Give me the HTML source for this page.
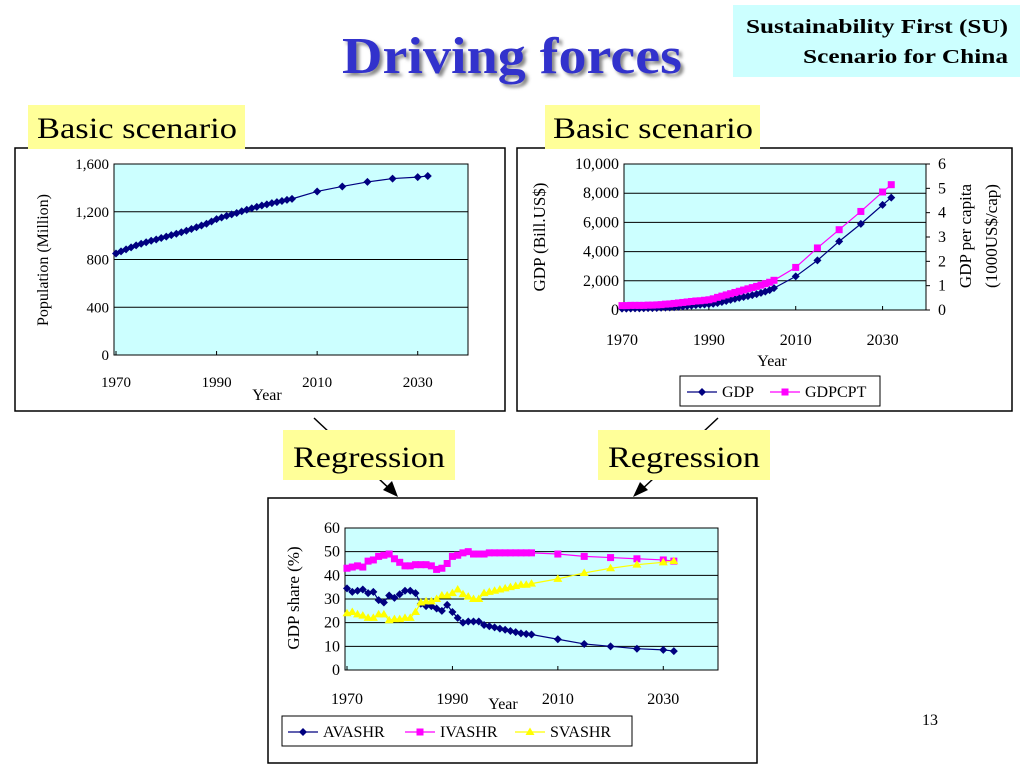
<!DOCTYPE html>
<html><head><meta charset="utf-8"><style>
html,body{margin:0;padding:0;background:#fff;}
svg{display:block;font-family:"Liberation Serif",serif;}
</style></head><body>
<svg id="s" width="1024" height="768" viewBox="0 0 1024 768">
<defs><filter id="sh"><feDropShadow dx="3" dy="3" stdDeviation="1.5" flood-color="#888"/></filter></defs>
<text x="512" y="73" text-anchor="middle" font-size="52" font-weight="bold" fill="#3333cc" filter="url(#sh)" textLength="340" lengthAdjust="spacingAndGlyphs">Driving forces</text>
<rect x="733" y="5" width="287" height="72" fill="#ccffff"/>
<text x="1008" y="33" text-anchor="end" font-size="20" font-weight="bold" textLength="262" lengthAdjust="spacingAndGlyphs">Sustainability First (SU)</text>
<text x="1008" y="63" text-anchor="end" font-size="20" font-weight="bold" textLength="205" lengthAdjust="spacingAndGlyphs">Scenario for China</text>

<rect x="15" y="148" width="490" height="263" fill="#fff" stroke="#000" stroke-width="1.5"/>
<rect x="517" y="148" width="495" height="263" fill="#fff" stroke="#000" stroke-width="1.5"/>
<rect x="268" y="498" width="489" height="265" fill="#fff" stroke="#000" stroke-width="1.5"/>

<rect x="28" y="105" width="217" height="44" fill="#ffff99"/>
<text x="137" y="138" text-anchor="middle" font-size="30" textLength="200" lengthAdjust="spacingAndGlyphs">Basic scenario</text>
<rect x="545" y="105" width="215" height="44" fill="#ffff99"/>
<text x="653" y="138" text-anchor="middle" font-size="30" textLength="200" lengthAdjust="spacingAndGlyphs">Basic scenario</text>

<line x1="314" y1="418" x2="394" y2="493" stroke="#000" stroke-width="1.5"/>
<polygon points="398,497 383,490 392,481" fill="#000"/>
<line x1="718" y1="418" x2="638" y2="493" stroke="#000" stroke-width="1.5"/>
<polygon points="633,497 640,482 648,490" fill="#000"/>
<rect x="283" y="430" width="172" height="50" fill="#ffff99"/>
<text x="369" y="467" text-anchor="middle" font-size="30" textLength="152" lengthAdjust="spacingAndGlyphs">Regression</text>
<rect x="598" y="430" width="172" height="50" fill="#ffff99"/>
<text x="684" y="467" text-anchor="middle" font-size="30" textLength="152" lengthAdjust="spacingAndGlyphs">Regression</text>
<text x="930" y="725" text-anchor="middle" font-size="16">13</text>
<g id="charts"></g>
</svg>
<script>
// ---- data ----
const annualYears = [];
for (let y = 1970; y <= 2005; y++) annualYears.push(y);
const futureYears = [2010, 2015, 2020, 2025, 2030, 2032];
const years = annualYears.concat(futureYears);
const popValues = [850,868,885,902,918,932,945,957,968,980,992,1004,1016,1028,1041,1055,1070,1085,1100,1118,1138,1152,1165,1178,1190,1204,1217,1229,1241,1252,1262,1272,1281,1290,1299,1308,1370,1412,1450,1478,1490,1500];
const gdpValues = [90,95,100,110,115,120,125,130,140,150,165,175,190,210,240,270,300,330,360,380,400,430,480,550,620,690,760,830,890,950,1020,1090,1170,1260,1360,1500,2300,3400,4700,5900,7200,7700];
const gdpcptValues = [0.18,0.18,0.19,0.19,0.19,0.19,0.2,0.2,0.21,0.22,0.24,0.25,0.27,0.29,0.31,0.33,0.35,0.37,0.38,0.4,0.42,0.46,0.52,0.57,0.62,0.67,0.72,0.77,0.82,0.87,0.92,0.97,1.02,1.08,1.14,1.22,1.75,2.55,3.3,4.05,4.85,5.15];
const avaValues = [34.5,33,33.5,34,32.5,33,29.5,28.5,31.5,30.5,32,33.5,33.5,32.5,28,27,27,26,25,27.5,24.5,22,20,20.5,20.5,20.5,19,18.5,18,17.5,17,16.5,16,15.5,15.2,15,13,11,10,9,8.5,8];
const ivaValues = [43,43.5,44,43.5,46,46.5,48,48.5,49,47,45.5,44,44,44.5,44.5,44.5,44,42.5,43,45,48,48.5,49.5,50,49,49,49,49.5,49.5,49.5,49.5,49.5,49.5,49.5,49.5,49.5,49,48,47.5,47,46.5,46];
const svaValues = [24,24.5,23.5,23,22,22,23.5,23.5,21,21.5,21.5,22,22,24.5,28.5,29,29,30,31.5,31.5,32.5,34,32,31,30,30,32.5,33,33.5,34,34.5,35,35.5,36,36,36.5,38.5,41,43,44.5,45.5,46];
const yearTicks = [1970, 1990, 2010, 2030];
const popTicks = [0, 400, 800, 1200, 1600];
const popTickLabels = ["0","400","800","1,200","1,600"];
const gdpTicks = [0, 2000, 4000, 6000, 8000, 10000];
const gdpTickLabels = ["0","2,000","4,000","6,000","8,000","10,000"];
const capTicks = [0,1,2,3,4,5,6];
const shareTicks = [0,10,20,30,40,50,60];

const NS = "http://www.w3.org/2000/svg";
const root = document.getElementById('charts');
function mk(tag, attrs, parent, txt) {
  const e = document.createElementNS(NS, tag);
  for (const k in attrs) e.setAttribute(k, attrs[k]);
  if (txt !== undefined) e.textContent = txt;
  (parent || root).appendChild(e);
  return e;
}
function lin(d0, d1, r0, r1) { return v => r0 + (v - d0) / (d1 - d0) * (r1 - r0); }

function frame(cfg) {
  const g = mk('g', {});
  
  
  const r = mk('rect', {x: cfg.x0, y: cfg.y0, width: cfg.x1 - cfg.x0, height: cfg.y1 - cfg.y0, fill: '#ccffff', stroke: '#000', 'stroke-width': 1}, g);
  
  
  cfg.yTicks.forEach((t, i) => {
    const y = cfg.ys(t);
    if (t !== cfg.yTicks[0]) {
      const gl = mk('line', {x1: cfg.x0, x2: cfg.x1, y1: y, y2: y, stroke: '#000', 'stroke-width': 1}, g);
      
      
    }
    const tl = mk('text', {x: cfg.x0 - 5, y: y + 5, 'text-anchor': 'end', 'font-size': cfg.fs || 15}, g, cfg.yLabels[i]);
    
    
  });
  yearTicks.forEach(t => {
    const x = cfg.xs(t);
    mk('line', {x1: x, x2: x, y1: cfg.y1, y2: cfg.y1 - 4, stroke: '#000'}, g);
    const tl = mk('text', {x: x, y: cfg.y1 + cfg.xlOff, 'text-anchor': 'middle', 'font-size': cfg.fs || 15}, g, String(t));
    
    
  });
  return g;
}
function marker(g, type, x, y, color) {
  let m;
  if (type === 'd') m = mk('polygon', {points: `${x},${y-4} ${x+4},${y} ${x},${y+4} ${x-4},${y}`, fill: color}, g);
  else if (type === 's') m = mk('rect', {x: x-3.5, y: y-3.5, width: 7, height: 7, fill: color}, g);
  else m = mk('polygon', {points: `${x},${y-4.5} ${x+4.5},${y+3} ${x-4.5},${y+3}`, fill: color}, g);
  
  
}
function series(g, name, xs, ys, vals, type, color) {
  const sg = mk('g', {}, g);
  
  
  const pts = vals.map((v, i) => xs(years[i]) + ',' + ys(v)).join(' ');
  const pl = mk('polyline', {points: pts, fill: 'none', stroke: color, 'stroke-width': 1.2}, sg);
  
  
  vals.forEach((v, i) => marker(sg, type, xs(years[i]), ys(v), color));
}
function legendEntry(g, x, y, type, color, label) {
  const lg = mk('g', {}, g);
  
  
  mk('line', {x1: x, x2: x + 30, y1: y, y2: y, stroke: color, 'stroke-width': 1.2}, lg);
  marker(lg, type, x + 15, y, color);
  mk('text', {x: x + 35, y: y + 5, 'font-size': 16}, lg, label);
}

// Chart 1: population
{
  const xs = lin(1970, 2040, 116, 468), ys = lin(0, 1600, 355, 164);
  const g = frame({name: 'population', x0: 114, x1: 468, y0: 164, y1: 355, xs, ys, yTicks: popTicks, yLabels: popTickLabels, xlOff: 32});
  series(g, 'population', xs, ys, popValues, 'd', '#000080');
  const t = mk('text', {x: 267, y: 400, 'text-anchor': 'middle', 'font-size': 16}, g, 'Year');
  
  
  const yt = mk('text', {x: 0, y: 0, transform: 'translate(48,260) rotate(-90)', 'text-anchor': 'middle', 'font-size': 16}, g, 'Population (Million)');
  
  
}
// Chart 2: GDP
{
  const xs = lin(1970, 2040, 622, 926), ys = lin(0, 10000, 310, 164), ys2 = lin(0, 6, 310, 164);
  const g = frame({name: 'gdp', x0: 624, x1: 926, y0: 164, y1: 310, xs, ys, yTicks: gdpTicks, yLabels: gdpTickLabels, xlOff: 35, fs: 16});
  capTicks.forEach(t => {
    mk('line', {x1: 926, x2: 930, y1: ys2(t), y2: ys2(t), stroke: '#000'}, g);
    const tl = mk('text', {x: 938, y: ys2(t) + 5, 'font-size': 16}, g, String(t));
    
    
  });
  series(g, 'gdp', xs, ys, gdpValues, 'd', '#000080');
  series(g, 'gdpcpt', xs, ys2, gdpcptValues, 's', '#ff00ff');
  const t = mk('text', {x: 772, y: 366, 'text-anchor': 'middle', 'font-size': 16}, g, 'Year');
  
  
  const yt = mk('text', {x: 0, y: 0, transform: 'translate(545,237) rotate(-90)', 'text-anchor': 'middle', 'font-size': 17}, g, 'GDP (Bill.US$)');
  
  
  const y2 = mk('text', {x: 0, y: 0, transform: 'translate(971,236) rotate(-90)', 'text-anchor': 'middle', 'font-size': 17}, g, 'GDP per capita');
  
  
  const y3 = mk('text', {x: 0, y: 0, transform: 'translate(997,236) rotate(-90)', 'text-anchor': 'middle', 'font-size': 17}, g, '(1000US$/cap)');
  
  
  const lb = mk('rect', {x: 680, y: 376, width: 200, height: 30, fill: '#fff', stroke: '#000'}, g);
  
  
  legendEntry(g, 687, 392, 'd', '#000080', 'GDP');
  legendEntry(g, 770, 392, 's', '#ff00ff', 'GDPCPT');
}
// Chart 3: GDP share
{
  const xs = lin(1970, 2040, 347, 716), ys = lin(0, 60, 670, 528);
  const g = frame({name: 'share', x0: 345, x1: 718, y0: 528, y1: 670, xs, ys, yTicks: shareTicks, yLabels: shareTicks.map(String), xlOff: 34, fs: 16});
  series(g, 'avashr', xs, ys, avaValues, 'd', '#000080');
  series(g, 'ivashr', xs, ys, ivaValues, 's', '#ff00ff');
  series(g, 'svashr', xs, ys, svaValues, 't', '#ffff00');
  const t = mk('text', {x: 503, y: 709, 'text-anchor': 'middle', 'font-size': 16}, g, 'Year');
  
  
  const yt = mk('text', {x: 0, y: 0, transform: 'translate(299,598) rotate(-90)', 'text-anchor': 'middle', 'font-size': 17}, g, 'GDP share (%)');
  
  
  const lb = mk('rect', {x: 282, y: 716, width: 350, height: 30, fill: '#fff', stroke: '#000'}, g);
  
  
  legendEntry(g, 288, 732, 'd', '#000080', 'AVASHR');
  legendEntry(g, 405, 732, 's', '#ff00ff', 'IVASHR');
  legendEntry(g, 515, 732, 't', '#ffff00', 'SVASHR');
}
</script>
</body></html>
